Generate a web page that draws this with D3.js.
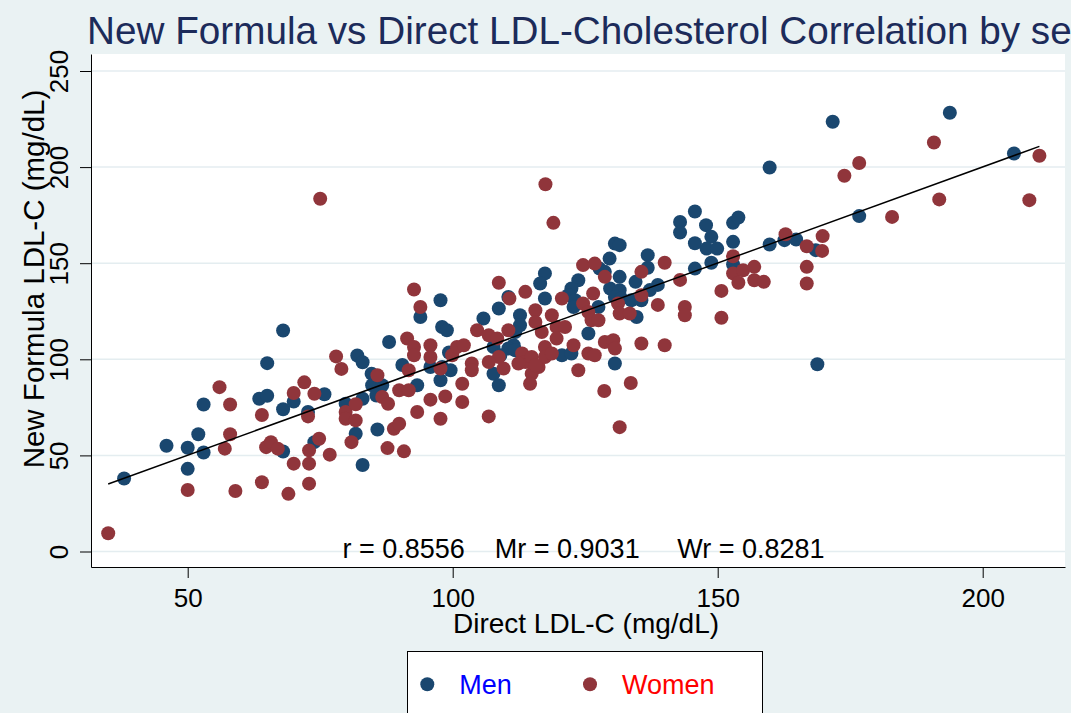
<!DOCTYPE html>
<html>
<head>
<meta charset="utf-8">
<script src="https://cdn.jsdelivr.net/npm/d3@7"></script>
<style>
body { margin: 0; background: #eaf2f3; }
svg { display: block; font-family: "Liberation Sans", Arial, sans-serif; }
</style>
</head>
<body>
<div id="chart"></div>
<script>
// direct LDL-C (x) vs new formula LDL-C (y)
const men = [
    [68,115],[88,109],[65,98],[82,102],[83,98.5],[90.5,97],[84.7,92.5],[84.8,86.5],[86.7,86.5],[85.6,81.2],[93.3,86.5],
    [46,55],[50,54],[52,61],[53,76.5],[53,51.5],[50,43],[38,38],[63.5,79.5],[65,81],[68,74],[70,78],[75.8,81.8],
    [72.7,72.6],[68,52],[73.9,56.9],[79.8,76.9],[83,79.5],[81.7,61.3],[83,45],[85.8,63.5],
    [142.9,171.5],[142.9,166],[145.7,176.9],[145.7,160.4],[145.7,147.2],
    [130.6,160.2],[131.5,159.4],[129.6,152.4],[136.8,154.2],[136.8,147.6],
    [127.7,147.2],[128.7,145.5],[131.5,142.9],[134.5,140.3],[138.7,138.7],
    [117.4,144.7],[116.5,139.4],[123.7,141.1],[122.4,136.8],[121.8,133.3],
    [129.7,136.8],[131.5,135.9],[130.6,132.4],[131.8,131.6],[133.7,130.7],
    [110.5,132.4],[117.4,131.6],[135.6,130.7],[134.7,122],[123.1,130.7],[122.8,127.2],
    [127.5,127.2],[125.6,113.4],
    [112.7,122.9],[112.7,117.7],[111.8,114.2],[111.5,107.3],[108.7,126.4],[105.8,121.2],
    [110.5,105.6],[111.8,104.7],[107.7,106.4],[109,102.1],[107.7,92.5],[108.7,86.5],
    [120.6,102.1],[122.4,103],[130.6,97.8],
    [97.7,130.7],[98,116.8],[98.9,115.1],[93.9,122],
    [95.8,96],[98,96],[97.7,89.1],[99.6,94.3],[99.3,103.5],
    [171.7,223.6],[193.8,228.3],[205.9,207.1],[159.8,199.8],[176.7,174.5],
    [147.8,169.8],[152.9,171],[153.9,173.8],[148.8,163.7],
    [147.9,157.6],[149.9,157.6],[152.9,161.1],[152.9,149.3],[148.8,150.2],
    [159.8,159.7],[162.6,162],[164.8,162.3],[168.5,156.8],[168.8,97.4],[137.2,136]
];
const women = [
    [75,183.5],
    [78,101.5],[79,95],[85.8,91.7],[86.7,80.4],[87.8,76.9],[89.9,83.9],[91.7,83.9],[93.3,72.6],[91.7,94.3],
    [35,9.5],[50,32],[56,85.5],[58,76.5],[58,61],[57,53.5],[59,31.5],[64,71],[64,36],[70,82.5],[72,88],[73.9,82.1],[72.7,70.3],
    [64.8,54.3],[65.7,56.9],[67,53.5],[70,45.7],[69,30],[72.9,52.6],[72.9,45.7],[72.9,35.3],[74.8,58.7],[76.8,50.4],
    [79.8,72.6],[79.8,69.1],[81.7,68.2],[81.7,76.6],[80.9,56.9],[87.7,53.8],[90.8,52.1],[88.9,63.9],[89.9,66.5],
    [119,171],[117.5,191.1],[140,150.2],[135.6,145.5],[124.6,149],[126.8,149.8],[128.7,142.9],[142.9,141.3],
    [126.5,134.2],[135.6,133.3],[108.7,139.8],[113.7,135.1],[110.7,131.6],[120.6,131.6],
    [138.7,128.3],[143.8,127.2],[143.8,122.9],
    [131.2,129],[131.5,123.8],[133.4,123.8],
    [124.6,129],[125.6,124.6],[126.2,120.3],[127.5,120.3],
    [115.6,125.5],[115.6,119.4],[116.8,114.2],[118.7,122.9],[119.6,116.8],[119.6,110.8],[121.2,116.8],
    [110.5,115.1],[104.6,115.1],[106.8,112.5],[108.4,110.8],
    [108.7,101.2],[106.8,98.6],[109.6,95.2],
    [113.1,103],[113.7,98.6],[114.9,101.2],[116.2,96],[117.4,106.4],[117.4,101.2],[118.7,103],
    [114.9,92.5],[114.6,87.3],[115.6,96.9],[112.4,97.8],
    [122.8,107.3],[123.7,94.3],[125.6,103],[126.8,102.1],
    [128.7,109],[130.3,109.9],[130.6,105.6],[135.6,108.2],[140,107.3],
    [128.6,83.5],[133.6,87.7],[131.5,64.7],
    [101.8,87.3],[101.8,77.8],[98.6,80.7],[95.8,79],[97.7,69.1],[106.8,70.3],
    [103.6,97.8],[103.6,94.3],[92.7,136.3],[93.9,127.2],
    [91.4,110.8],[92.7,106.4],[92.7,102.1],[95.8,107.3],[95.8,101.2],
    [97.7,95.2],[99.9,102.1],[100.8,106.4],[102.1,107.3],
    [190.8,212.8],[210.7,205.9],[208.8,182.8],[191.8,183.2],[176.7,202.1],[173.9,195.5],[182.9,174.1],
    [152.9,153.6],[152.9,144.7],[154.8,146.3],[156.9,148.1],
    [153.9,139.8],[156.9,141.1],[158.7,140.3],
    [150.7,135.6],[150.7,121.6],
    [162.8,165.1],[169.8,164.1],[166.8,158.8],[169.7,156.4],[166.8,148.1],[166.8,139.4]
];
const xTicks = [50, 100, 150, 200];
const yTicks = [0, 50, 100, 150, 200, 250];
const fitCoef = [0.1, 1.0]; // intercept, slope
const corrLabels = ["r = 0.8556", "Mr = 0.9031", "Wr = 0.8281"];
const groupNames = ["Men", "Women"];
const groupColors = ["#1a476f", "#90353b"];
const legendTextColors = ["#0000ff", "#ff0000"];

const width = 1071, height = 713;
const plot = { left: 91, right: 1065, top: 54, bottom: 567 };

const svg = d3.select("#chart").append("svg").attr("width", width).attr("height", height);
svg.append("rect").attr("width", width).attr("height", height).attr("fill", "#eaf2f3");
svg.append("rect").
attr("x", plot.left).attr("y", plot.top).
attr("width", plot.right - plot.left).attr("height", plot.bottom - plot.top).
attr("fill", "white");

// scales pinned on the tick positions, then stretched to the plot edges
const x = d3.scaleLinear().domain([50, 200]).range([187.7, 982.7]);
x.domain([x.invert(plot.left), x.invert(plot.right)]).range([plot.left, plot.right]);
const y = d3.scaleLinear().domain([0, 250]).range([551.5, 71]);
y.domain([y.invert(plot.bottom), y.invert(plot.top)]).range([plot.bottom, plot.top]);

// grid
svg.append("g").selectAll("line").data(yTicks).join("line").
attr("x1", plot.left).attr("x2", plot.right).
attr("y1", d => y(d)).attr("y2", d => y(d)).
attr("stroke", "#e4edf0").attr("stroke-width", 1.5);

// axes
const yAxis = svg.append("g").attr("transform", "translate(" + plot.left + ",0)").
call(d3.axisLeft(y).tickValues(yTicks).tickSize(11).tickSizeOuter(0));
yAxis.selectAll("text").
attr("transform", "rotate(-90)").
attr("x", 0).attr("y", -23).attr("dy", 0).
attr("text-anchor", "middle");

const xAxis = svg.append("g").attr("transform", "translate(0," + plot.bottom + ")").
call(d3.axisBottom(x).tickValues(xTicks).tickSize(11).tickSizeOuter(0));
xAxis.selectAll("text").attr("y", 40).attr("dy", 0);

for(const ax of [xAxis, yAxis]) {
    ax.selectAll("text").style("font-size", "26px").attr("fill", "#000").style("font-family", "'Liberation Sans', Arial, sans-serif");
    ax.selectAll("line").attr("stroke", "#000");
    ax.select(".domain").attr("stroke", "#000");
}

// points
[men, women].forEach((pts, i) => {
    svg.append("g").selectAll("circle").data(pts).join("circle").
    attr("cx", d => x(d[0])).attr("cy", d => y(d[1])).
    attr("r", 7).attr("fill", groupColors[i]);
});

// fitted line over the whole x range
const allX = men.concat(women).map(d => d[0]);
const xr = d3.extent(allX);
svg.append("path").
attr("d", d3.line()(xr.map(v => [x(v), y(fitCoef[0] + fitCoef[1] * v)]))).
attr("stroke", "#000").attr("stroke-width", 1.5).attr("fill", "none");

// correlation note
svg.append("text").
attr("x", 583.5).attr("y", 558).
attr("text-anchor", "middle").
style("white-space", "pre").
style("font-size", "27px").
text(corrLabels[0] + "    " + corrLabels[1] + "     " + corrLabels[2]);

// titles (the main title runs past the right edge, as in the original)
svg.append("text").
attr("x", 87).attr("y", 44).
style("font-size", "38.7px").attr("fill", "#1c2b5a").
text("New Formula vs Direct LDL-Cholesterol Correlation by sex");

svg.append("text").
attr("x", 586).attr("y", 633).attr("text-anchor", "middle").
style("font-size", "28px").
text("Direct LDL-C (mg/dL)");

svg.append("text").
attr("transform", "translate(44,279) rotate(-90)").attr("text-anchor", "middle").
style("font-size", "29.5px").
text("New Formula LDL-C (mg/dL)");

// legend
const legend = svg.append("g");
legend.append("rect").
attr("x", 407.5).attr("y", 651.5).attr("width", 355).attr("height", 80).
attr("fill", "white").attr("stroke", "#000").attr("stroke-width", 1);
const legendX = [427.3, 590];
groupNames.forEach((name, i) => {
    legend.append("circle").attr("cx", legendX[i]).attr("cy", 684.3).attr("r", 7).attr("fill", groupColors[i]);
    legend.append("text").attr("x", legendX[i] + 32).attr("y", 694).
    style("font-size", "27px").attr("fill", legendTextColors[i]).text(name);
});
</script>
</body>
</html>
